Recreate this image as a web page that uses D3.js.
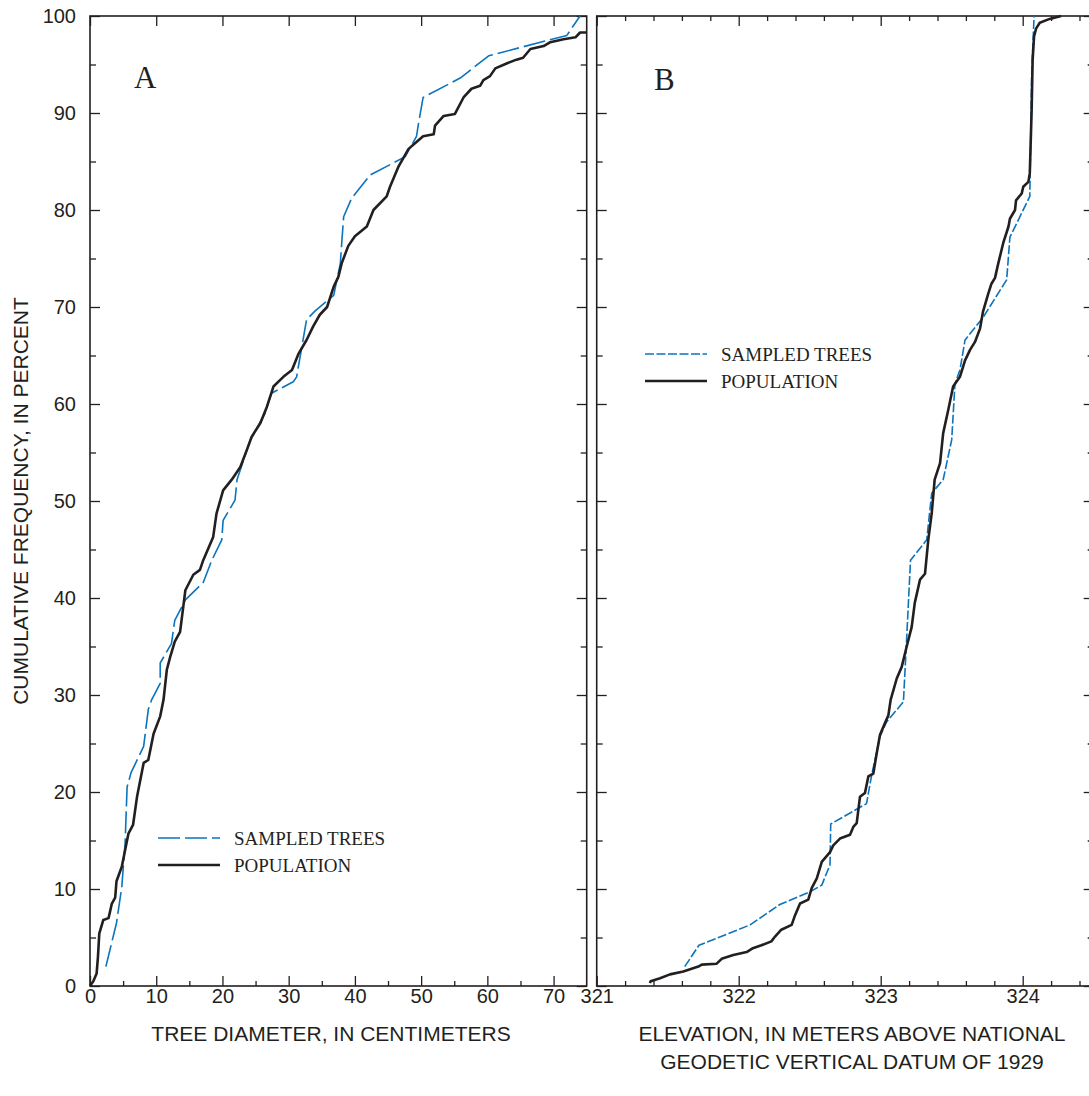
<!DOCTYPE html>
<html>
<head>
<meta charset="utf-8">
<script src="https://cdn.jsdelivr.net/npm/d3@7"></script>
<style>
  html, body { margin: 0; padding: 0; background: #fff; }
  svg { display: block; }
  .tick text { font-family: "Liberation Sans", Arial, sans-serif; font-size: 20px; fill: #231f20; }
  .tick line { stroke: #231f20; stroke-width: 1.3; }
  .domain { display: none; }
</style>
</head>
<body>
<svg id="chart" width="1089" height="1096"></svg>
<script>
// Cumulative frequency of tree diameter (A) and elevation (B): [value, percent]
const populationDiameter = [
  [0,0],[0.5,0.5],[1.0,1.3],[1.2,3.0],[1.4,5.4],[2.0,6.8],[2.8,7.0],[3.3,8.5],[3.8,9.1],
  [4.0,10.8],[4.8,12.3],[5.5,14.7],[5.8,15.7],[6.5,16.6],[7.1,19.5],[8.1,23.0],[8.8,23.3],
  [9.6,26.0],[10.6,27.8],[11.1,29.5],[11.6,32.6],[12.1,33.9],[12.8,35.5],[13.6,36.5],
  [14.4,40.8],[15.6,42.4],[16.6,42.9],[17.1,43.9],[18.6,46.3],[19.1,48.7],[20.1,51.1],
  [21.4,52.2],[22.7,53.5],[23.7,55.3],[24.4,56.6],[25.7,58.0],[26.7,59.7],[27.7,61.8],
  [29.2,62.8],[30.5,63.5],[31.5,65.2],[32.7,66.6],[33.7,68.0],[34.7,69.2],[35.8,70.0],
  [36.8,72.1],[37.5,73.1],[38.0,74.5],[39.0,76.3],[40.0,77.3],[41.8,78.3],[42.8,80.0],
  [44.8,81.4],[45.3,82.4],[46.6,84.5],[48.1,86.3],[49.6,87.2],[50.3,87.6],[51.9,87.8],
  [52.1,88.7],[53.4,89.7],[55.1,89.9],[56.4,91.6],[57.6,92.5],[58.9,92.8],[59.4,93.4],
  [60.4,93.8],[61.2,94.6],[62.9,95.1],[64.4,95.5],[65.4,95.7],[66.5,96.6],[68.5,96.9],
  [69.5,97.3],[71.5,97.6],[73.3,97.8],[74.0,98.3],[75.0,98.3]
];
const sampledDiameter = [
  [2.4,2.0],[4.0,6.5],[4.8,10.2],[5.3,14.7],[5.6,20.5],[6.2,22.0],[8.1,24.7],[8.8,28.5],
  [9.3,29.5],[10.6,31.2],[10.6,33.3],[12.3,35.3],[12.8,37.7],[14.4,39.8],[17.1,41.6],
  [18.4,43.9],[19.9,46.0],[20.1,48.0],[21.9,50.1],[22.2,52.2],[24.2,56.3],[26.4,59.0],
  [27.4,61.1],[30.7,62.3],[31.2,62.8],[32.7,68.7],[34.0,69.6],[36.8,71.2],[37.8,74.5],
  [38.0,76.5],[38.3,79.3],[39.5,81.2],[42.3,83.6],[47.6,85.5],[49.3,87.6],[49.6,88.9],
  [50.3,91.6],[55.9,93.6],[60.2,95.9],[72.0,98.0],[74.0,100]
];
const populationElevation = [
  [321.375,0.3],[321.38,0.5],[321.446,0.8],[321.516,1.2],[321.61,1.5],[321.716,2.0],
  [321.74,2.2],[321.845,2.3],[321.88,2.8],[321.962,3.2],[322.056,3.5],[322.10,3.9],
  [322.16,4.2],[322.23,4.6],[322.256,5.1],[322.30,5.8],[322.373,6.3],[322.397,7.3],
  [322.432,8.5],[322.49,8.9],[322.514,10.1],[322.55,11.1],[322.585,12.8],[322.643,13.8],
  [322.666,14.5],[322.713,15.2],[322.784,15.6],[322.807,16.4],[322.831,16.8],[322.854,19.5],
  [322.889,19.9],[322.913,21.6],[322.948,21.9],[322.972,24.0],[322.995,25.9],[323.03,27.1],
  [323.054,27.9],[323.07,29.5],[323.113,31.7],[323.148,32.9],[323.183,35.0],[323.218,37.0],
  [323.24,39.5],[323.277,41.9],[323.312,42.5],[323.335,46.0],[323.359,48.7],[323.38,52.2],
  [323.418,53.9],[323.44,57.0],[323.476,59.4],[323.51,61.8],[323.558,62.8],[323.594,64.5],
  [323.63,65.6],[323.664,66.4],[323.70,67.8],[323.72,69.5],[323.758,71.4],[323.78,72.4],
  [323.805,73.0],[323.828,74.5],[323.863,76.6],[323.90,78.3],[323.91,79.1],[323.946,80.0],
  [323.953,81.0],[323.993,81.7],[324.004,82.4],[324.04,82.9],[324.05,83.8],[324.063,90.3],
  [324.07,95.5],[324.08,97.9],[324.094,98.7],[324.12,99.3],[324.19,99.7],[324.27,100]
];
const sampledElevation = [
  [321.62,2.0],[321.72,4.2],[322.08,6.3],[322.29,8.4],[322.50,9.7],[322.585,10.4],
  [322.643,12.5],[322.648,16.7],[322.90,18.8],[322.937,21.8],[322.995,25.7],[323.04,27.2],
  [323.16,29.3],[323.18,35.0],[323.21,43.9],[323.324,46.0],[323.359,50.8],[323.44,52.2],
  [323.50,56.3],[323.523,62.1],[323.558,63.5],[323.594,66.6],[323.72,68.9],[323.887,72.8],
  [323.91,77.2],[324.05,81.4],[324.063,93.8],[324.08,100]
];

const percentMajor = [0,10,20,30,40,50,60,70,80,90,100];
const percentMinor = [5,15,25,35,45,55,65,75,85,95];
const diameterMajor = [0,10,20,30,40,50,60,70];
const diameterMinor = [5,15,25,35,45,55,65];
const elevationMajor = [321,322,323,324];
const elevationMinor = [321.2,321.4,321.6,321.8,322.2,322.4,322.6,322.8,323.2,323.4,323.6,323.8,324.2,324.4];

const seriesNames = ["SAMPLED TREES", "POPULATION"];

const ink = "#231f20";
const blue = "#0b74bc";

const svg = d3.select("#chart");
const plotTop = 16, plotBottom = 986;

const y = d3.scaleLinear().domain([0, 100]).range([plotBottom, plotTop]);
const xA = d3.scaleLinear().domain([0, 75]).range([90, 586.7]);
const xB = d3.scaleLinear().domain([321, 324.5]).range([596.7, 1093.7]);

function panel(x, majors, minors, showLeftLabels, topMinor) {
  const [x0, x1] = x.range();
  const g = svg.append("g");

  // left axis
  g.append("g").attr("transform", `translate(${x0},0)`)
    .call(d3.axisLeft(y).tickValues(percentMajor).tickSize(-10).tickPadding(14)
      .tickFormat(showLeftLabels ? d3.format("d") : () => ""));
  g.append("g").attr("transform", `translate(${x0},0)`)
    .call(d3.axisLeft(y).tickValues(percentMinor).tickSize(-6).tickFormat(() => ""));

  // right axis
  g.append("g").attr("transform", `translate(${x1},0)`)
    .call(d3.axisRight(y).tickValues(percentMajor).tickSize(-10).tickFormat(() => ""));
  g.append("g").attr("transform", `translate(${x1},0)`)
    .call(d3.axisRight(y).tickValues(percentMinor).tickSize(-6).tickFormat(() => ""));

  // bottom axis
  g.append("g").attr("transform", `translate(0,${plotBottom})`)
    .call(d3.axisBottom(x).tickValues(majors).tickSize(-10).tickPadding(3).tickFormat(d3.format("d")));
  g.append("g").attr("transform", `translate(0,${plotBottom})`)
    .call(d3.axisBottom(x).tickValues(minors).tickSize(-5).tickFormat(() => ""));

  // top axis
  g.append("g").attr("transform", `translate(0,${plotTop})`)
    .call(d3.axisTop(x).tickValues(majors).tickSize(-10).tickFormat(() => ""));
  if (topMinor) {
    g.append("g").attr("transform", `translate(0,${plotTop})`)
      .call(d3.axisTop(x).tickValues(minors).tickSize(-5).tickFormat(() => ""));
  }

  // frame
  g.append("rect").attr("x", x0).attr("y", plotTop).attr("width", x1 - x0).attr("height", plotBottom - plotTop)
    .attr("fill", "none").attr("stroke", ink).attr("stroke-width", 1.6);
  return g;
}

panel(xA, diameterMajor, diameterMinor, true, false);
panel(xB, elevationMajor, elevationMinor, false, true);

function drawSeries(x, data, color, width, dash) {
  const line = d3.line().x(d => x(d[0])).y(d => y(d[1]));
  svg.append("path").datum(data).attr("d", line)
    .attr("fill", "none").attr("stroke", color).attr("stroke-width", width)
    .attr("stroke-linejoin", "round").attr("stroke-dasharray", dash);
}

drawSeries(xA, sampledDiameter, blue, 1.6, "22,5");
drawSeries(xA, populationDiameter, ink, 2.6, null);
drawSeries(xB, sampledElevation, blue, 1.6, "9,2.5");
drawSeries(xB, populationElevation, ink, 2.6, null);

// legends
const serif = "'Liberation Serif', 'Times New Roman', serif";
function legend(x, yTop, dash) {
  const g = svg.append("g");
  [0, 1].forEach(i => {
    const yy = yTop + i * 27;
    g.append("line").attr("x1", x).attr("x2", x + 62).attr("y1", yy).attr("y2", yy)
      .attr("stroke", i === 0 ? blue : ink).attr("stroke-width", i === 0 ? 1.6 : 2.6)
      .attr("stroke-dasharray", i === 0 ? dash : null);
    g.append("text").attr("x", x + 76).attr("y", yy + 6.5)
      .attr("font-family", serif)
      .attr("font-size", 19).attr("fill", ink).text(seriesNames[i]);
  });
}
legend(158, 838, "22,5");
legend(645, 354, "9,2.5");

// panel letters
svg.append("text").attr("x", 134).attr("y", 88).attr("font-family", serif)
  .attr("font-size", 31).attr("fill", ink).text("A");
svg.append("text").attr("x", 654).attr("y", 89.5).attr("font-family", serif)
  .attr("font-size", 31).attr("fill", ink).text("B");

// axis titles
const sans = "'Liberation Sans', Arial, sans-serif";
svg.append("text").attr("transform", "translate(28,501) rotate(-90)")
  .attr("text-anchor", "middle").attr("font-family", sans).attr("font-size", 21)
  .attr("fill", ink).text("CUMULATIVE FREQUENCY, IN PERCENT");
svg.append("text").attr("x", 331).attr("y", 1041).attr("text-anchor", "middle")
  .attr("font-family", sans).attr("font-size", 21).attr("fill", ink)
  .text("TREE DIAMETER, IN CENTIMETERS");
svg.append("text").attr("x", 852).attr("y", 1041).attr("text-anchor", "middle")
  .attr("font-family", sans).attr("font-size", 21).attr("fill", ink)
  .text("ELEVATION, IN METERS ABOVE NATIONAL");
svg.append("text").attr("x", 852).attr("y", 1069).attr("text-anchor", "middle")
  .attr("font-family", sans).attr("font-size", 21).attr("fill", ink)
  .text("GEODETIC VERTICAL DATUM OF 1929");
</script>
</body>
</html>
